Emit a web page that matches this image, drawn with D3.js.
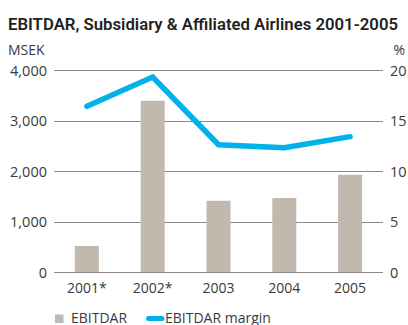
<!DOCTYPE html>
<html>
<head>
<meta charset="utf-8">
<script src="https://cdn.jsdelivr.net/npm/d3@7"></script>
<style>
  html, body { margin: 0; padding: 0; background: #fff; }
  svg { display: block; font-family: "Open Sans", "Noto Sans", sans-serif; }
</style>
</head>
<body>
<svg id="chart" width="408" height="325"></svg>
<script>
// EBITDAR (MSEK) and EBITDAR margin (%) per year
const years = ["2001*", "2002*", "2003", "2004", "2005"];
const ebitdar = [515, 3390, 1410, 1465, 1925];
const margin = [16.4, 19.3, 12.6, 12.3, 13.4];
const leftTicks = [0, 1000, 2000, 3000, 4000];
const rightTicks = [0, 5, 10, 15, 20];

const svg = d3.select("#chart");
const plot = { left: 54, right: 383, top: 70, bottom: 272 };

const x = d3.scaleBand()
  .domain(years)
  .range([plot.left, plot.right])
  .paddingInner(0.635)
  .paddingOuter(0.3175);

const yLeft = d3.scaleLinear().domain([0, 4000]).range([plot.bottom, plot.top]);
const yRight = d3.scaleLinear().domain([0, 20]).range([plot.bottom, plot.top]);

// Title and unit labels
svg.append("text")
  .attr("x", 8).attr("y", 29.5)
  .attr("font-size", 17).attr("font-weight", 600)
  .attr("font-family", "Roboto, sans-serif")
  .attr("fill", "#231f20")
  .attr("textLength", 390).attr("lengthAdjust", "spacingAndGlyphs")
  .text("EBITDAR, Subsidiary & Affiliated Airlines 2001-2005");

svg.append("text")
  .attr("x", 8).attr("y", 54.5)
  .attr("font-size", 14).attr("fill", "#3a3a3a")
  .text("MSEK");

svg.append("text")
  .attr("x", 405).attr("y", 54.5)
  .attr("text-anchor", "end")
  .attr("font-size", 14).attr("fill", "#3a3a3a")
  .text("%");

// Horizontal gridlines
svg.append("g")
  .selectAll("line")
  .data(leftTicks)
  .join("line")
  .attr("x1", plot.left).attr("x2", plot.right)
  .attr("y1", d => Math.round(yLeft(d)) + 0.5)
  .attr("y2", d => Math.round(yLeft(d)) + 0.5)
  .attr("stroke", "#8c8a88")
  .attr("stroke-width", 1.2);

// Left axis labels
const leftAxis = svg.append("g")
  .attr("transform", `translate(${plot.left - 7},0)`)
  .call(d3.axisLeft(yLeft).tickValues(leftTicks).tickSize(0).tickPadding(0)
    .tickFormat(d3.format(",")));
leftAxis.select(".domain").remove();
leftAxis.selectAll("text")
  .attr("font-size", 14.5).attr("fill", "#3a3a3a")
  .attr("font-family", "'Open Sans', sans-serif")
  .attr("dy", "0.36em");

// Right axis labels
const rightAxis = svg.append("g")
  .attr("transform", `translate(${plot.right + 7},0)`)
  .call(d3.axisRight(yRight).tickValues(rightTicks).tickSize(0).tickPadding(0));
rightAxis.select(".domain").remove();
rightAxis.selectAll("text")
  .attr("font-size", 14.5).attr("fill", "#3a3a3a")
  .attr("font-family", "'Open Sans', sans-serif")
  .attr("dy", "0.36em");

// Bars
svg.append("g")
  .selectAll("rect")
  .data(years.map((y, i) => ({ year: y, value: ebitdar[i] })))
  .join("rect")
  .attr("x", d => x(d.year))
  .attr("width", x.bandwidth())
  .attr("y", d => yLeft(d.value))
  .attr("height", d => yLeft(0) - yLeft(d.value))
  .attr("fill", "#c1b9ae");

// Baseline drawn over the bars
svg.append("line")
  .attr("x1", plot.left).attr("x2", plot.right)
  .attr("y1", Math.round(yLeft(0)) + 0.5).attr("y2", Math.round(yLeft(0)) + 0.5)
  .attr("stroke", "#8c8a88").attr("stroke-width", 1.2);

// Margin line
const line = d3.line()
  .x((d, i) => x(years[i]) + x.bandwidth() / 2)
  .y(d => yRight(d));

svg.append("path")
  .datum(margin)
  .attr("d", line)
  .attr("fill", "none")
  .attr("stroke", "#00b2e9")
  .attr("stroke-width", 5.5)
  .attr("stroke-linecap", "round")
  .attr("stroke-linejoin", "miter");

// X axis labels
const xAxis = svg.append("g")
  .attr("transform", `translate(0,${plot.bottom + 11})`)
  .call(d3.axisBottom(x).tickSize(0).tickPadding(0));
xAxis.select(".domain").remove();
xAxis.selectAll("text")
  .attr("font-size", 14).attr("fill", "#3a3a3a")
  .attr("font-family", "'Open Sans', sans-serif")
  .attr("dy", "0.71em");

// Legend
const legend = svg.append("g");
legend.append("rect")
  .attr("x", 55).attr("y", 314.5).attr("width", 8.5).attr("height", 8.5)
  .attr("fill", "#c1b9ae");
legend.append("text")
  .attr("x", 71).attr("y", 322.5)
  .attr("font-size", 14).attr("fill", "#3a3a3a")
  .text("EBITDAR");
legend.append("line")
  .attr("x1", 148.5).attr("x2", 162)
  .attr("y1", 318.5).attr("y2", 318.5)
  .attr("stroke", "#00b2e9").attr("stroke-width", 5)
  .attr("stroke-linecap", "round");
legend.append("text")
  .attr("x", 165).attr("y", 322.5)
  .attr("font-size", 14).attr("fill", "#3a3a3a")
  .text("EBITDAR margin");
</script>
</body>
</html>
